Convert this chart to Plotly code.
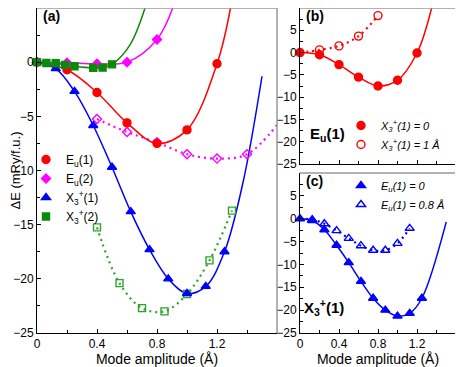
import plotly.graph_objects as go

# ---- panel (a) data ----
eu1_x = [0, 0.2, 0.4, 0.6, 0.8, 1.0, 1.2]
eu1_y = [0, -0.7, -2.8, -5.6, -7.5, -6.25, -0.15]
eu1_fit_x = [1.29]
eu1_fit_y = [5.0]

eu2_x = [0, 0.2, 0.4, 0.6, 0.8]
eu2_y = [0, -0.05, -0.15, 0.0, 2.1]
eu2_fit_x = [0.91]
eu2_fit_y = [5.2]

eu2b_x = [0.4, 0.6, 0.8, 1.0, 1.2, 1.4]
eu2b_y = [-5.25, -6.45, -7.4, -8.5, -8.9, -8.5]
eu2b_fit_x = [1.6]
eu2b_fit_y = [-5.8]

x1_x = [0, 0.125, 0.25, 0.375, 0.5, 0.625, 0.75, 0.875, 1.0, 1.125, 1.25]
x1_y = [0, -0.6, -2.7, -5.85, -9.7, -13.8, -17.3, -20.0, -21.35, -20.7, -17.5]
x1_fit_x = [1.375, 1.5]
x1_fit_y = [-11.0, -1.3]

x2_x = [0, 0.0625, 0.125, 0.1875, 0.25, 0.375, 0.4375, 0.5]
x2_y = [0, -0.07, -0.1, -0.25, -0.37, -0.52, -0.5, -0.2]
x2_fit_x = [0.62, 0.72]
x2_fit_y = [1.6, 5.0]

x2b_x = [0.4, 0.55, 0.7, 0.85, 1.0, 1.15, 1.3]
x2b_y = [-15.25, -20.4, -22.7, -23.0, -21.4, -18.3, -13.7]

# ---- panel (b) data ----
b_fill_x = [0, 0.2, 0.4, 0.6, 0.8, 1.0, 1.2]
b_fill_y = [0, -0.5, -2.7, -5.5, -7.5, -6.2, -0.1]
b_fit_x = [1.35]
b_fit_y = [10.0]
b_open_x = [0.2, 0.4, 0.6, 0.8]
b_open_y = [0.6, 1.5, 3.7, 8.3]

# ---- panel (c) data ----
c_fill_x = [0, 0.125, 0.25, 0.375, 0.5, 0.625, 0.75, 0.875, 1.0, 1.125, 1.25]
c_fill_y = [0, -0.4, -2.4, -5.8, -9.6, -13.7, -17.4, -20.0, -21.3, -20.7, -17.4]
c_fit_x = [1.5]
c_fit_y = [-0.7]
c_open_x = [0.125, 0.25, 0.375, 0.5, 0.625, 0.75, 0.875, 1.0, 1.125]
c_open_y = [-0.2, -1.1, -2.6, -4.3, -5.9, -6.9, -6.9, -5.4, -2.1]

RED = '#ff0000'
MAG = '#ff00ff'
BLUE = '#0000ff'
GREEN = '#0a8a0a'
GREEN2 = '#2aa52a'
FONT = 'Liberation Sans, Arial, sans-serif'
DOTS = '2px,4px'

# the page body has an 8px margin, so the figure is laid out in shifted pixels
OFF = 8
W, H = 463 - OFF, 367 - OFF


def px(x):
    return min(max((x - OFF) / W, 0), 1)


def py(y):
    return min(max(1 - (y - OFF) / H, 0), 1)


fig = go.Figure()


def addCurve(xs, ys, color, dash, xaxis, yaxis):
    fig.add_trace(go.Scatter(
        x=xs, y=ys, mode='lines', xaxis=xaxis, yaxis=yaxis,
        line=dict(color=color, width=1.5 if dash == 'solid' else 2.2, dash=dash, shape='spline', smoothing=1.0),
        showlegend=False, hoverinfo='skip'))


def addMarks(xs, ys, color, symbol, size, name, xaxis, yaxis, legend, showlegend=True):
    fig.add_trace(go.Scatter(
        x=xs, y=ys, mode='markers', xaxis=xaxis, yaxis=yaxis, name=name,
        marker=dict(color=color, symbol=symbol, size=size, line=dict(color=color, width=1.4)),
        showlegend=showlegend, legend=legend, cliponaxis=False))


# panel (a)
addCurve(eu2b_x + eu2b_fit_x, eu2b_y + eu2b_fit_y, MAG, DOTS, 'x', 'y')
addCurve(x2b_x, x2b_y, GREEN2, DOTS, 'x', 'y')
addCurve(eu1_x + eu1_fit_x, eu1_y + eu1_fit_y, RED, 'solid', 'x', 'y')
addCurve(eu2_x + eu2_fit_x, eu2_y + eu2_fit_y, MAG, 'solid', 'x', 'y')
addCurve(x1_x + x1_fit_x, x1_y + x1_fit_y, BLUE, 'solid', 'x', 'y')
addCurve(x2_x + x2_fit_x, x2_y + x2_fit_y, GREEN, 'solid', 'x', 'y')

addMarks(eu2b_x, eu2b_y, MAG, 'diamond-open', 7, '', 'x', 'y', 'legend', False)
addMarks(x2b_x, x2b_y, GREEN2, 'square-open', 7, '', 'x', 'y', 'legend', False)
addMarks(eu1_x, eu1_y, RED, 'circle', 8, 'E<sub>u</sub>(1)', 'x', 'y', 'legend')
addMarks(eu2_x, eu2_y, MAG, 'diamond', 7, 'E<sub>u</sub>(2)', 'x', 'y', 'legend')
addMarks(x1_x, x1_y, BLUE, 'triangle-up', 8, 'X<sub>3</sub><sup>+</sup>(1)', 'x', 'y', 'legend')
addMarks(x2_x, x2_y, GREEN, 'square', 7, 'X<sub>3</sub><sup>+</sup>(2)', 'x', 'y', 'legend')

# panel (b)
addCurve([0] + b_open_x, [0] + b_open_y, RED, DOTS, 'x2', 'y2')
addCurve(b_fill_x + b_fit_x, b_fill_y + b_fit_y, RED, 'solid', 'x2', 'y2')
addMarks(b_fill_x, b_fill_y, RED, 'circle', 8, '<i>X<sub>3</sub><sup>+</sup>(1) = 0</i>', 'x2', 'y2', 'legend2')
addMarks(b_open_x, b_open_y, RED, 'circle-open', 8, '<i>X<sub>3</sub><sup>+</sup>(1) = 1 Å</i>', 'x2', 'y2', 'legend2')

# panel (c)
addCurve([0] + c_open_x, [0] + c_open_y, BLUE, DOTS, 'x3', 'y3')
addCurve(c_fill_x + c_fit_x, c_fill_y + c_fit_y, BLUE, 'solid', 'x3', 'y3')
addMarks(c_fill_x, c_fill_y, BLUE, 'triangle-up', 8, '<i>E<sub>u</sub>(1) = 0</i>', 'x3', 'y3', 'legend3')
addMarks(c_open_x, c_open_y, BLUE, 'triangle-up-open', 8, '<i>E<sub>u</sub>(1) = 0.8 Å</i>', 'x3', 'y3', 'legend3')

dom_a_x = [px(37), px(277)]
dom_bc_x = [px(300), px(456)]
dom_a_y = [py(333), py(5)]
dom_b_y = [py(164), py(5)]
dom_c_y = [py(333), py(173)]

axis_common = dict(showline=True, linecolor='black', linewidth=1, ticks='inside', ticklen=4,
                   tickcolor='black', showgrid=False, zeroline=False, automargin=False,
                   tickfont=dict(family=FONT, size=12, color='black'))
minor_x = dict(dtick=0.2, ticks='inside', ticklen=3, tickcolor='black')
minor_y = dict(dtick=2.5, ticks='inside', ticklen=3, tickcolor='black')

fig.update_layout(
    width=W, height=H,
    margin=dict(l=0, r=0, t=0, b=0),
    paper_bgcolor='white', plot_bgcolor='white',
    font=dict(family=FONT, size=12, color='black'),
    xaxis=dict(axis_common, domain=dom_a_x, range=[0, 1.6], tickvals=[0, 0.4, 0.8, 1.2], minor=minor_x,
               title=dict(text='Mode amplitude (Å)', font=dict(size=14), standoff=4), anchor='y'),
    yaxis=dict(axis_common, domain=dom_a_y, range=[-25, 5], dtick=5, minor=minor_y,
               title=dict(text='ΔE (mRy/f.u.)', font=dict(size=13), standoff=4), anchor='x'),
    xaxis2=dict(axis_common, domain=dom_bc_x, range=[0, 1.6], tickvals=[0, 0.4, 0.8, 1.2, 1.6],
                showticklabels=False, minor=minor_x, anchor='y2'),
    yaxis2=dict(axis_common, domain=dom_b_y, range=[-25, 10], tickvals=[-25, -20, -15, -10, -5, 0, 5],
                minor=minor_y, anchor='x2'),
    xaxis3=dict(axis_common, domain=dom_bc_x, range=[0, 1.6], tickvals=[0, 0.4, 0.8, 1.2, 1.6], minor=minor_x,
                title=dict(text='Mode amplitude (Å)', font=dict(size=14), standoff=4), anchor='y3'),
    yaxis3=dict(axis_common, domain=dom_c_y, range=[-25, 10], tickvals=[-25, -20, -15, -10, -5, 0, 5],
                minor=minor_y, anchor='x3'),
    legend=dict(x=px(26), y=py(145), xanchor='left', yanchor='top', bgcolor='rgba(0,0,0,0)',
                font=dict(size=12), tracegroupgap=0, itemwidth=30),
    legend2=dict(x=px(341), y=py(111), xanchor='left', yanchor='top', bgcolor='rgba(0,0,0,0)',
                 font=dict(size=11), tracegroupgap=0, itemwidth=30),
    legend3=dict(x=px(341), y=py(171), xanchor='left', yanchor='top', bgcolor='rgba(0,0,0,0)',
                 font=dict(size=11), tracegroupgap=0, itemwidth=30),
)

# grey top/right frame lines
for xd, yd in [(dom_a_x, dom_a_y), (dom_bc_x, dom_b_y), (dom_bc_x, dom_c_y)]:
    fig.add_shape(type='line', xref='paper', yref='paper', x0=xd[0], x1=xd[1], y0=yd[1], y1=yd[1],
                  line=dict(color='#999999', width=1.5))
    fig.add_shape(type='line', xref='paper', yref='paper', x0=xd[1], x1=xd[1], y0=yd[0], y1=yd[1],
                  line=dict(color='#999999', width=1.5))

labels = [
    ('<b>(a)</b>', 41, 16, 14),
    ('<b>(b)</b>', 304, 16, 14),
    ('<b>(c)</b>', 304, 181, 14),
    ('<b>E<sub>u</sub>(1)</b>', 308, 134, 15),
    ('<b>X<sub>3</sub><sup>+</sup>(1)</b>', 302, 307, 15),
]
for text, lx, ly, size in labels:
    fig.add_annotation(text=text, xref='paper', yref='paper', x=px(lx), y=py(ly),
                       xanchor='left', yanchor='middle', showarrow=False,
                       font=dict(family=FONT, size=size, color='black'))

fig.write_html("out.html")
